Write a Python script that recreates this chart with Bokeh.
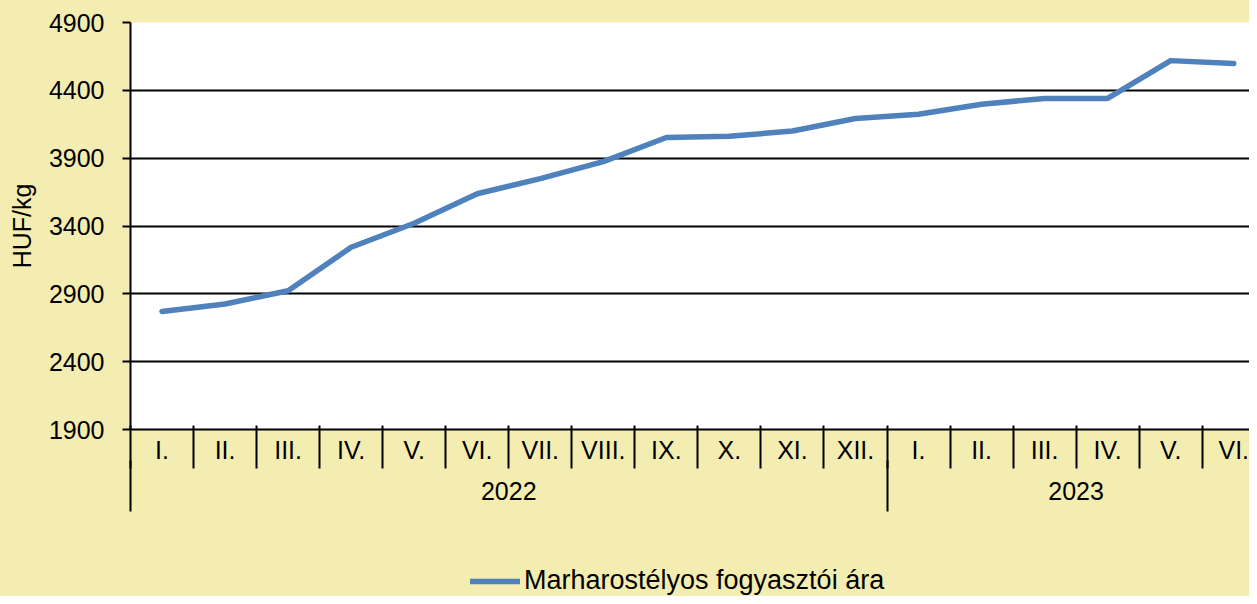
import numpy as np
from bokeh.plotting import figure
from bokeh.layouts import column
from bokeh.models import (Range1d, LinearAxis, FixedTicker, Legend, LegendItem,
                          ColumnDataSource)
from bokeh.embed import file_html
from bokeh.resources import INLINE

# ---- data ----
months = ["I.", "II.", "III.", "IV.", "V.", "VI.", "VII.", "VIII.", "IX.", "X.", "XI.", "XII.",
          "I.", "II.", "III.", "IV.", "V.", "VI."]
years = ["2022", "2023"]
year_counts = [12, 6]
prices = [2770, 2825, 2923, 3243, 3420, 3638, 3749, 3875, 4052, 4061, 4100, 4192,
          4224, 4298, 4340, 4340, 4619, 4598]
y_ticks = [1900, 2400, 2900, 3400, 3900, 4400, 4900]
series_name = "Marharostélyos fogyasztói ára"
y_title = "HUF/kg"

# ---- style ----
BG = "#F4EDB2"
LINE = "#4F81BD"
FONT = "Liberation Sans"
FS = "25px"
W = 1249
H1 = 540
H2 = 56

n = len(months)
xc = (np.arange(n) + 0.5).tolist()
src = ColumnDataSource(data=dict(x=xc, y=prices))

p = figure(width=W, height=H1, output_backend="svg", toolbar_location=None,
           x_range=Range1d(0, 17.75), y_range=Range1d(y_ticks[0], y_ticks[-1]),
           x_axis_type=None,
           min_border_left=130, min_border_right=0, min_border_top=22,
           min_border_bottom=H1 - 429,
           background_fill_color="white", border_fill_color=BG, outline_line_color=None)

# y axis
ya = p.yaxis[0]
ya.ticker = FixedTicker(ticks=y_ticks)
ya.axis_line_color = "black"
ya.axis_line_width = 2
ya.major_tick_out = 8
ya.major_tick_in = 0
ya.major_tick_line_width = 2
ya.major_tick_line_color = "black"
ya.minor_tick_line_color = None
ya.major_label_text_font = FONT
ya.major_label_text_font_size = FS
ya.major_label_text_color = "black"
ya.major_label_standoff = 18
ya.axis_label = y_title
ya.axis_label_text_font = FONT
ya.axis_label_text_font_size = FS
ya.axis_label_text_font_style = "normal"
ya.axis_label_text_color = "black"
ya.axis_label_standoff = 10
p.ygrid.grid_line_color = "black"
p.ygrid.grid_line_width = 2

# year boundaries / centres
bounds = [0]
for c in year_counts:
    bounds.append(bounds[-1] + c)
ycent = [(bounds[i] + bounds[i + 1]) / 2 for i in range(len(years))]

# axis A: month labels (no ticks)
month_axis = LinearAxis(
    ticker=FixedTicker(ticks=xc, minor_ticks=[]),
    major_label_overrides={float(c): m for c, m in zip(xc, months)},
    axis_line_color="black", axis_line_width=2,
    major_tick_out=0, major_tick_in=0, major_tick_line_color=None,
    minor_tick_out=0, minor_tick_in=0, minor_tick_line_color=None,
    major_label_text_font=FONT, major_label_text_font_size=FS, major_label_text_color="black",
    major_label_standoff=6)

# axis B: year labels + month separators drawn upward
year_axis = LinearAxis(
    ticker=FixedTicker(ticks=ycent, minor_ticks=list(range(n + 1))),
    major_label_overrides={float(c): y for c, y in zip(ycent, years)},
    axis_line_color=None,
    major_tick_out=0, major_tick_in=0, major_tick_line_color=None,
    minor_tick_out=2, minor_tick_in=41, minor_tick_line_color="black", minor_tick_line_width=2,
    major_label_text_font=FONT, major_label_text_font_size=FS, major_label_text_color="black",
    major_label_standoff=13)

# axis C: year separators drawn upward
sep_axis = LinearAxis(
    ticker=FixedTicker(ticks=bounds, minor_ticks=[]),
    major_label_overrides={float(b): "" for b in bounds},
    axis_line_color=None,
    major_tick_out=9, major_tick_in=42, major_tick_line_color="black", major_tick_line_width=2,
    minor_tick_line_color=None,
    major_label_text_font_size="1px", major_label_standoff=0)

p.add_layout(month_axis, "below")
p.add_layout(year_axis, "below")
p.add_layout(sep_axis, "below")

r = p.line("x", "y", source=src, line_color=LINE, line_width=5.5,
           line_cap="round", line_join="round")

# legend strip (the series is drawn here too, but falls outside this strip's ranges)
q = figure(width=W, height=H2, output_backend="svg", toolbar_location=None,
           x_range=Range1d(-100, -99), y_range=Range1d(-100, -99),
           x_axis_type=None, y_axis_type=None,
           min_border_left=0, min_border_right=0, min_border_top=0, min_border_bottom=0,
           background_fill_color=None, border_fill_color=BG, outline_line_color=None)
q.xgrid.visible = False
q.ygrid.visible = False
key = q.line("x", "y", source=src, line_color=LINE, line_width=5.5, line_cap="round")
legend = Legend(items=[LegendItem(label=series_name, renderers=[key])],
                location=(340, 0), orientation="horizontal",
                padding=0, margin=0, glyph_width=50, glyph_height=20, label_standoff=4,
                label_text_font=FONT, label_text_font_size="27px", label_text_color="black",
                border_line_color=None, background_fill_alpha=0)
q.add_layout(legend)

layout = column(p, q, spacing=0, styles={"background-color": BG})
open("out.html", "w").write(file_html(layout, INLINE))
